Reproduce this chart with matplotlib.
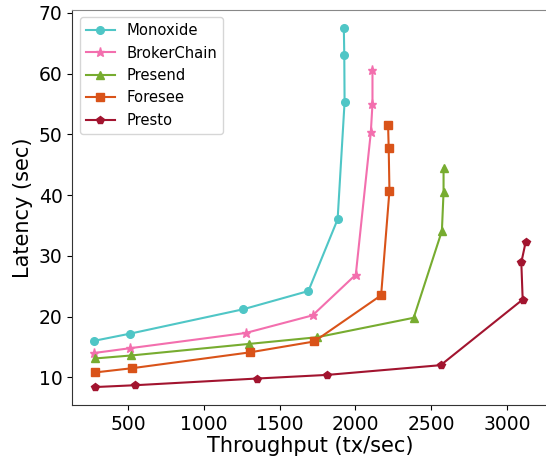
import numpy as np
import matplotlib
matplotlib.use('Agg')
import matplotlib.pyplot as plt

# throughput (tx/sec) and latency (sec) for each system
monoxide_x = [275, 516, 1260, 1690, 1883, 1929, 1927, 1924]
monoxide_y = [16.0, 17.2, 21.2, 24.2, 36.0, 55.3, 63.0, 67.5]

brokerchain_x = [275, 516, 1277, 1718, 2003, 2102, 2113, 2113]
brokerchain_y = [14.0, 14.8, 17.3, 20.2, 26.9, 50.3, 55.0, 60.5]

presend_x = [280, 523, 1299, 1749, 2385, 2571, 2582, 2582]
presend_y = [13.1, 13.6, 15.5, 16.6, 19.8, 34.1, 40.5, 44.4]

foresee_x = [282, 527, 1302, 1729, 2170, 2225, 2220, 2216]
foresee_y = [10.8, 11.5, 14.1, 15.9, 23.5, 40.7, 47.8, 51.5]

presto_x = [284, 547, 1350, 1815, 2563, 3104, 3095, 3124]
presto_y = [8.4, 8.7, 9.8, 10.4, 12.0, 22.8, 28.9, 32.3]

fig = plt.figure(figsize=(5.46, 4.62), dpi=100)
ax = fig.add_axes([72.3 / 546, 1 - 405 / 462, 475 / 546, 395 / 462])

ax.plot(monoxide_x, monoxide_y, color='#4fc6c6', marker='o', markersize=5.5, lw=1.5, label='Monoxide')
ax.plot(brokerchain_x, brokerchain_y, color='#f36fae', marker='*', markersize=6.5, lw=1.5, label='BrokerChain')
ax.plot(presend_x, presend_y, color='#77ac30', marker='^', markersize=6, lw=1.5, label='Presend')
ax.plot(foresee_x, foresee_y, color='#d95319', marker='s', markersize=5.5, lw=1.5, label='Foresee')
ax.plot(presto_x, presto_y, color='#a2142f', marker='p', markersize=6, lw=1.5, label='Presto')

ax.set_xlabel('Throughput (tx/sec)', fontsize=15, labelpad=2)
ax.set_ylabel('Latency (sec)', fontsize=15, labelpad=4)
ax.tick_params(labelsize=13.5)
ax.set_xticks([500, 1000, 1500, 2000, 2500, 3000])
ax.set_yticks([10, 20, 30, 40, 50, 60, 70])

# right spine is cut off in the original picture
ax.spines['right'].set_visible(False)
for s in ['left', 'bottom']:
    ax.spines[s].set_color('#333333')
ax.spines['top'].set_color('#888888')

ax.legend(loc='upper left', fontsize=10.6)

fig.savefig('out.png', dpi=100)
